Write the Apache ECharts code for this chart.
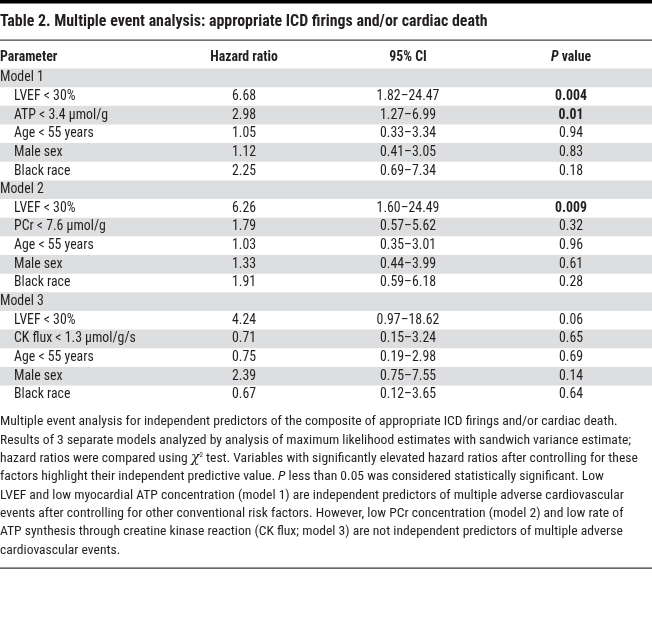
<!DOCTYPE html>
<html><head><meta charset="utf-8">
<script src="https://cdn.jsdelivr.net/npm/echarts@6/dist/echarts.min.js"></script>
<style>html,body{margin:0;padding:0;background:#fff}#c{width:652px;height:637px}</style>
</head><body><div id="c"></div>
<script>
const tableTitle = 'Table 2. Multiple event analysis: appropriate ICD firings and/or cardiac death';
const headers = ['Parameter', 'Hazard ratio', '95% CI', 'P value'];
const parameters = ['Model 1','LVEF < 30%','ATP < 3.4 μmol/g','Age < 55 years','Male sex','Black race',
  'Model 2','LVEF < 30%','PCr < 7.6 μmol/g','Age < 55 years','Male sex','Black race',
  'Model 3','LVEF < 30%','CK flux < 1.3 μmol/g/s','Age < 55 years','Male sex','Black race'];
const isModelRow = [true,false,false,false,false,false,true,false,false,false,false,false,true,false,false,false,false,false];
const hazardRatio = [null,6.68,2.98,1.05,1.12,2.25, null,6.26,1.79,1.03,1.33,1.91, null,4.24,0.71,0.75,2.39,0.67];
const ciLow  = [null,1.82,1.27,0.33,0.41,0.69, null,1.60,0.57,0.35,0.44,0.59, null,0.97,0.15,0.19,0.75,0.12];
const ciHigh = [null,24.47,6.99,3.34,3.05,7.34, null,24.49,5.62,3.01,3.99,6.18, null,18.62,3.24,2.98,7.55,3.65];
const pValue = [null,'0.004','0.01','0.94','0.83','0.18', null,'0.009','0.32','0.96','0.61','0.28', null,'0.06','0.65','0.69','0.14','0.64'];
const footnoteLines = [
  'Multiple event analysis for independent predictors of the composite of appropriate ICD firings and/or cardiac death.',
  'Results of 3 separate models analyzed by analysis of maximum likelihood estimates with sandwich variance estimate;',
  'hazard ratios were compared using {g|χ}{s|2} test. Variables with significantly elevated hazard ratios after controlling for these',
  'factors highlight their independent predictive value. {i|P} less than 0.05 was considered statistically significant. Low',
  'LVEF and low myocardial ATP concentration (model 1) are independent predictors of multiple adverse cardiovascular',
  'events after controlling for other conventional risk factors. However, low PCr concentration (model 2) and low rate of',
  'ATP synthesis through creatine kinase reaction (CK flux; model 3) are not independent predictors of multiple adverse',
  'cardiovascular events.'
];

const FONT = "'Liberation Sans Narrow','Roboto Condensed',Roboto,sans-serif";
const INK = '#231f20';
const FS = 13.8;
const FN = 13.6;
const colX = {param: 0, indent: 14, hr: 244, ci: 408, p: 571};
const rowTop = 68.5, rowH = 18.65;
const rowIdx = parameters.map((_, i) => [i]);

const chart = echarts.init(document.getElementById('c'), null, {renderer: 'canvas'});

const graphic = [
  {type: 'rect', shape: {x: 0, y: 0, width: 652, height: 3.5}, style: {fill: '#000'}},
  {type: 'text', x: 0, y: 22, style: {text: tableTitle, font: "bold 15.9px " + FONT, fill: INK, textVerticalAlign: 'middle'}},
  {type: 'rect', shape: {x: 0, y: 39.5, width: 652, height: 1.3}, style: {fill: '#444'}},
  {type: 'text', x: colX.param, y: 58, style: {text: headers[0], font: "bold " + FS + "px " + FONT, fill: INK, textVerticalAlign: 'middle'}},
  {type: 'text', x: colX.hr, y: 58, style: {text: headers[1], font: "bold " + FS + "px " + FONT, fill: INK, textAlign: 'center', textVerticalAlign: 'middle'}},
  {type: 'text', x: colX.ci, y: 58, style: {text: headers[2], font: "bold " + FS + "px " + FONT, fill: INK, textAlign: 'center', textVerticalAlign: 'middle'}},
  {type: 'text', x: colX.p, y: 58, style: {
    text: '{i|P} ' + headers[3].slice(2), font: "bold " + FS + "px " + FONT, fill: INK, textAlign: 'center', textVerticalAlign: 'middle',
    rich: {i: {fontStyle: 'italic', fontWeight: 'bold', fontSize: FS, fontFamily: FONT, fill: INK}}}},
  {type: 'rect', shape: {x: 0, y: 567.5, width: 652, height: 1.2}, style: {fill: '#333'}}
];
footnoteLines.forEach((t, k) => {
  graphic.push({type: 'text', x: 0, y: 422 + k * 18.3, style: {
    text: t, font: FN + 'px ' + FONT, fontSize: FN, fontFamily: FONT, fill: INK, textVerticalAlign: 'middle',
    rich: {
      i: {fontStyle: 'italic', fontSize: FN, fontFamily: FONT, fill: INK},
      g: {fontStyle: 'italic', fontSize: 14, fontFamily: 'DejaVu Serif', fill: INK},
      s: {fontSize: 7, fontFamily: FONT, fill: INK, verticalAlign: 'top', padding: [0, 0, 6, 0]}
    }}});
});

chart.setOption({
  animation: false,
  backgroundColor: '#fff',
  graphic: graphic,
  grid: {left: 0, right: 0, top: rowTop, height: rowH * parameters.length, containLabel: false},
  xAxis: {type: 'value', min: 0, max: 652, show: false},
  yAxis: {type: 'value', min: -0.5, max: parameters.length - 0.5, inverse: true, show: false},
  series: [{
    type: 'custom',
    data: rowIdx,
    encode: {y: 0},
    renderItem: function (params, api) {
      const i = api.value(0);
      const c = api.coord([0, i]);
      const h = api.size([0, 1])[1];
      const cy = c[1];
      const children = [];
      if (i % 2 === 0) {
        children.push({type: 'rect', shape: {x: 0, y: cy - h / 2, width: 652, height: h}, style: {fill: '#dddedf'}});
      }
      const txt = (x, s, align, bold) => ({type: 'text', x: x, y: cy,
        style: {text: s, font: (bold ? 'bold ' : '') + FS + 'px ' + FONT, fill: INK, textAlign: align, textVerticalAlign: 'middle'}});
      children.push(txt(api.coord([isModelRow[i] ? colX.param : colX.indent, i])[0], parameters[i], 'left', false));
      if (hazardRatio[i] != null) {
        children.push(txt(api.coord([colX.hr, i])[0], hazardRatio[i].toFixed(2), 'center', false));
        children.push(txt(api.coord([colX.ci, i])[0], ciLow[i].toFixed(2) + '–' + ciHigh[i].toFixed(2), 'center', false));
        children.push(txt(api.coord([colX.p, i])[0], pValue[i], 'center', parseFloat(pValue[i]) < 0.05));
      }
      return {type: 'group', children: children};
    }
  }]
});
</script></body></html>
